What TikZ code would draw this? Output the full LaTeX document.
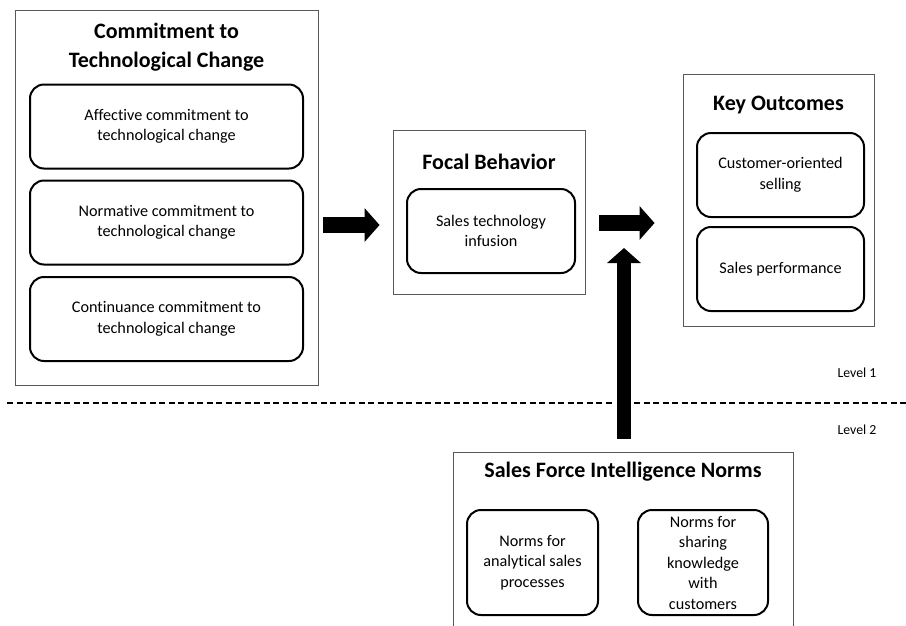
\documentclass[tikz,border=0pt]{standalone}
\usepackage{fontspec}
\setmainfont{Carlito}[Ligatures=NoCommon]
\usetikzlibrary{arrows.meta}

\tikzset{
  outerbox/.style={draw=black!65, line width=0.9pt, inner sep=0pt},
  innerbox/.style={draw=black, line width=2pt, rounded corners=14pt, align=center,
    font=\fontsize{16.2}{20.5}\selectfont, inner sep=2pt},
  boxtitle/.style={font=\fontsize{22}{29}\selectfont\bfseries, align=center},
  levellabel/.style={font=\fontsize{13.8}{16}\selectfont},
  blockarrow/.style={line width=16pt, -{Triangle[length=15pt, width=33pt]}},
}

\begin{document}
\begin{tikzpicture}[x=1pt, y=-1pt]
    \useasboundingbox (0,0) rectangle (906,625);
    \clip (0,0) rectangle (906,625);

    % Commitment to technological change
    \node[outerbox, minimum width=303pt, minimum height=375pt] (commit) at (166.5,197.5) {};
    \node[boxtitle] (committitle) at (166.5,47.5) {Commitment to\\Technological Change};
    \node[innerbox, minimum width=273pt, minimum height=84pt] (affective) at (166.5,126.5)
        {Affective commitment to\\technological change};
    \node[innerbox, minimum width=273pt, minimum height=84pt] (normative) at (166.5,222.5)
        {Normative commitment to\\technological change};
    \node[innerbox, minimum width=273pt, minimum height=84pt] (continuance) at (166.5,319)
        {Continuance commitment to\\technological change};

    % Focal behavior
    \node[outerbox, minimum width=192pt, minimum height=164pt] (focal) at (489,212) {};
    \node[boxtitle] (focaltitle) at (489,162) {Focal Behavior};
    \node[innerbox, minimum width=168pt, minimum height=84pt] (infusion) at (491,231)
        {Sales technology\\infusion};

    % Key outcomes
    \node[outerbox, minimum width=191pt, minimum height=252pt] (outcomes) at (778.5,200) {};
    \node[boxtitle] (outcomestitle) at (778.5,105) {Key Outcomes};
    \node[innerbox, minimum width=167pt, minimum height=84pt] (cos) at (780.5,175)
        {Customer-oriented\\selling};
    \node[innerbox, minimum width=167pt, minimum height=84pt] (perf) at (780.5,269)
        {Sales performance};

    % Sales force intelligence norms
    \node[outerbox, minimum width=340pt, minimum height=208pt] (sfin) at (623,556) {};
    \node[boxtitle] (sfintitle) at (623,472) {Sales Force Intelligence Norms};
    \node[innerbox, minimum width=131pt, minimum height=105pt] (analytical) at (532.5,562.5)
        {Norms for\\analytical sales\\processes};
    \node[innerbox, minimum width=130pt, minimum height=105pt] (sharing) at (703,562.5)
        {Norms for\\sharing\\knowledge\\with\\customers};

    % Level divider
    \draw[line width=1.2pt, dash pattern=on 6pt off 3.5pt] (7,403) -- (906,403);
    \node[levellabel] (level1) at (857,373) {Level 1};
    \node[levellabel] (level2) at (857,430) {Level 2};

    % Block arrows
    \coordinate (rowA) at (0,225);
    \coordinate (rowB) at (0,223);
    \coordinate (moderator) at (624,248);
    \draw[blockarrow, shorten <=5pt, shorten >=13pt] (commit.east |- rowA) -- (focal.west |- rowA);
    \draw[blockarrow, shorten <=14pt, shorten >=28pt] (focal.east |- rowB) -- (outcomes.west |- rowB);
    \draw[blockarrow, line width=14pt, shorten <=13pt,
          preaction={draw=white, line width=20pt, -}] (sfin.north -| moderator) -- (moderator);
\end{tikzpicture}
\end{document}
